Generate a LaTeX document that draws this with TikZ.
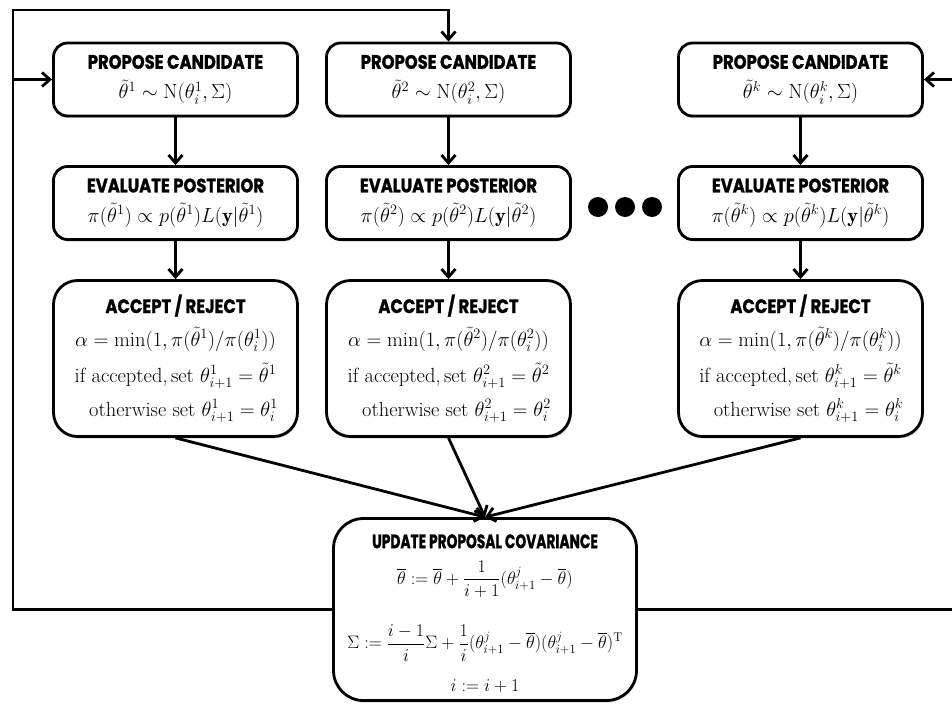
\RequirePackage{fix-cm}
\documentclass[tikz,border=0pt]{standalone}
\usepackage{amsmath}
\usepackage{fontspec}
\newfontfamily\hfont[FakeStretch=0.84, BoldFeatures={FakeBold=1.2}]{Poppins}
\usetikzlibrary{arrows.meta,shadows}
\newcommand\boxtitle[1]{{\hfont\bfseries\fontsize{19.5}{30}\selectfont #1}}
\newcommand\mfont{\fontsize{20.5}{30}\selectfont}
\newcommand\ufont{\fontsize{18}{30}\selectfont}
\begin{document}
\begin{tikzpicture}[x=1pt,y=-1pt,
  box/.style={draw, line width=2.8pt, fill=white, rounded corners=14pt, align=center,
    inner sep=0pt, font=\mfont,
    drop shadow={shadow xshift=1pt, shadow yshift=-2pt, fill=black!50, opacity=0.35}},
  smallbox/.style={box, minimum width=244, minimum height=73},
  accbox/.style={box, rounded corners=24pt, minimum width=244, minimum height=156},
  arr/.style={line width=2.8pt, -{Straight Barb[length=8pt,width=14pt]}},
  dot/.style={circle, fill=black, minimum size=20pt, inner sep=0pt}]
\useasboundingbox (0,0) rectangle (952,704);
% column 1
\node[smallbox] (p1) at (175.5,79.5) {\boxtitle{PROPOSE CANDIDATE}\\ $\tilde\theta^1\sim\mathrm{N}(\theta_i^1,\Sigma)$};
\node[smallbox] (e1) at (175.5,203) {\boxtitle{EVALUATE POSTERIOR}\\ $\pi(\tilde\theta^1)\propto p(\tilde\theta^1)L(\mathbf{y}|\tilde\theta^1)$};
\node[accbox] (a1) at (175.5,358.5) {\boxtitle{ACCEPT / REJECT}\\[3pt]
  $\alpha=\min(1,\pi(\tilde\theta^1)/\pi(\theta_i^1))$\\[6pt]
  if accepted,\,set $\theta^1_{i+1}=\tilde\theta^1$\\[4pt]
  \hspace*{16pt}otherwise set $\theta^1_{i+1}=\theta^1_i$};
% column 2
\node[smallbox] (p2) at (448.5,79.5) {\boxtitle{PROPOSE CANDIDATE}\\ $\tilde\theta^2\sim\mathrm{N}(\theta_i^2,\Sigma)$};
\node[smallbox] (e2) at (448.5,203) {\boxtitle{EVALUATE POSTERIOR}\\ $\pi(\tilde\theta^2)\propto p(\tilde\theta^2)L(\mathbf{y}|\tilde\theta^2)$};
\node[accbox] (a2) at (448.5,358.5) {\boxtitle{ACCEPT / REJECT}\\[3pt]
  $\alpha=\min(1,\pi(\tilde\theta^2)/\pi(\theta_i^2))$\\[6pt]
  if accepted,\,set $\theta^2_{i+1}=\tilde\theta^2$\\[4pt]
  \hspace*{16pt}otherwise set $\theta^2_{i+1}=\theta^2_i$};
% column k
\node[smallbox] (pk) at (800.5,79.5) {\boxtitle{PROPOSE CANDIDATE}\\ $\tilde\theta^k\sim\mathrm{N}(\theta_i^k,\Sigma)$};
\node[smallbox] (ek) at (800.5,203) {\boxtitle{EVALUATE POSTERIOR}\\ $\pi(\tilde\theta^k)\propto p(\tilde\theta^k)L(\mathbf{y}|\tilde\theta^k)$};
\node[accbox] (ak) at (800.5,358.5) {\boxtitle{ACCEPT / REJECT}\\[3pt]
  $\alpha=\min(1,\pi(\tilde\theta^k)/\pi(\theta_i^k))$\\[6pt]
  if accepted,\,set $\theta^k_{i+1}=\tilde\theta^k$\\[4pt]
  \hspace*{16pt}otherwise set $\theta^k_{i+1}=\theta^k_i$};
% dots
\node[dot] (d1) at (598,207) {};
\node[dot] (d2) at (625,207) {};
\node[dot] (d3) at (652,207) {};
% update
\node[box, font=\ufont, rounded corners=30pt, minimum width=303, minimum height=182] (upd) at (485,609.5)
 {\rule{0pt}{22pt}\scalebox{0.84}[1]{\boxtitle{UPDATE PROPOSAL COVARIANCE}}\\[6pt]
  $\displaystyle\overline\theta:=\overline\theta+\frac{1}{i+1}(\theta^j_{i+1}-\overline\theta)$\\[26pt]
  $\displaystyle\Sigma:=\frac{i-1}{i}\Sigma+\frac1i(\theta^j_{i+1}-\overline\theta)(\theta^j_{i+1}-\overline\theta)^{\mathrm T}$\\[13pt]
  $i:=i+1$};
% vertical arrows
\foreach \c in {1,2,k}{
  \draw[arr] (p\c.south) -- (e\c.north);
  \draw[arr] (e\c.south) -- (a\c.north);
  \draw[arr] (a\c.south) -- (upd.north);
}
% feedback loop
\coordinate (tl) at (13,10);
\coordinate (j1) at (13,79.5);
\coordinate (tr) at (964,79.5);
\draw[arr] (upd.west) -| (tl) -| (p2.north);
\draw[arr] (j1) -- (p1.west);
\draw[arr] (upd.east) -| (tr) -- (pk.east);
\end{tikzpicture}
\end{document}
